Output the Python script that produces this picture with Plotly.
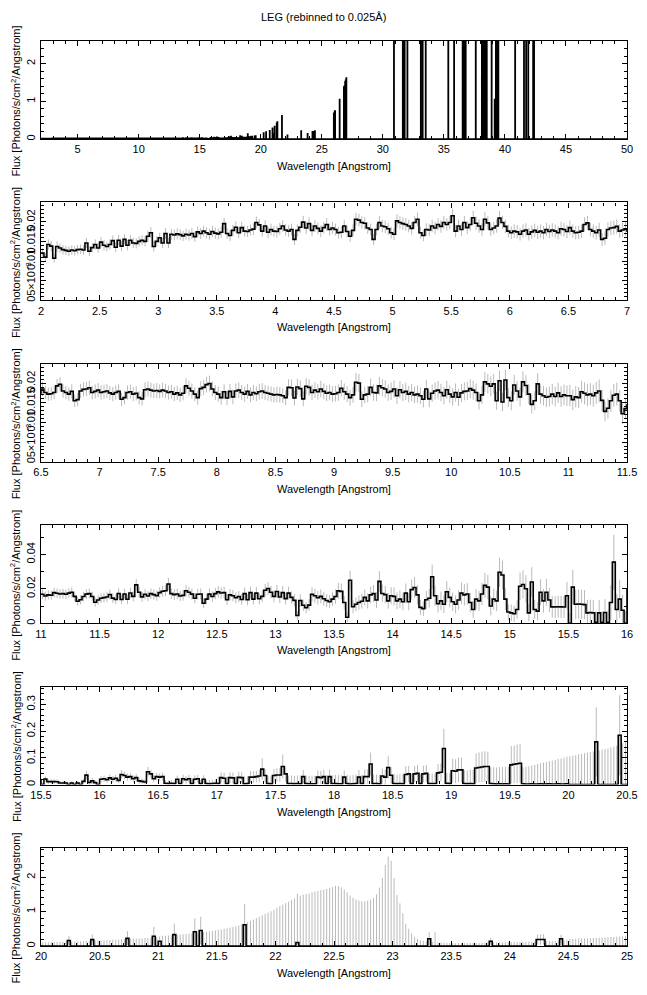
import plotly.graph_objects as go

# The page body adds an 8 px margin; the figure is sized and placed to compensate.
PAGE_MARGIN = 8
W, H = 647 - 2 * PAGE_MARGIN, 995 - 2 * PAGE_MARGIN
WL_START = 2.0
BIN_WIDTH = 0.025

# ---- flux and 1-sigma error, units of 1e-3 photons/s/cm^2/Angstrom, one list per Angstrom (40 bins)
flux_2_3 = [12.0, 11.0, 14.2, 13.8, 10.7, 13.7, 13.3, 12.9, 12.7, 12.5,
            12.8, 12.6, 12.9, 13.0, 12.8, 14.6, 12.5, 13.4, 14.2, 13.3,
            14.8, 14.0, 13.7, 14.2, 15.2, 13.5, 15.3, 13.8, 15.5, 14.0,
            15.3, 14.6, 14.5, 15.0, 15.3, 15.0, 16.3, 17.2, 13.7, 15.0]
err_2_3 = [1.2, 1.1, 1.3, 1.3, 1.1, 1.3, 1.2, 1.2, 1.2, 1.2,
           1.2, 1.2, 1.2, 1.2, 1.2, 1.3, 1.2, 1.2, 1.3, 1.2,
           1.3, 1.3, 1.2, 1.3, 1.3, 1.2, 1.3, 1.3, 1.3, 1.3,
           1.3, 1.3, 1.3, 1.3, 1.3, 1.3, 1.4, 1.4, 1.3, 1.3]
flux_3_4 = [15.9, 14.6, 17.0, 14.6, 16.8, 16.6, 16.9, 16.7, 16.4, 16.8,
            16.6, 17.0, 16.2, 17.4, 17.0, 17.6, 17.2, 16.8, 17.5, 17.1,
            16.9, 17.3, 19.5, 17.0, 16.5, 17.8, 18.6, 17.2, 18.5, 17.6,
            17.5, 17.9, 18.1, 19.8, 19.2, 17.6, 18.9, 17.3, 18.0, 17.6]
err_3_4 = [1.3, 1.3, 1.4, 1.3, 1.4, 1.4, 1.4, 1.4, 1.3, 1.4,
           1.4, 1.4, 1.3, 1.4, 1.4, 1.4, 1.4, 1.4, 1.4, 1.4,
           1.4, 1.4, 1.5, 1.4, 1.4, 1.4, 1.5, 1.4, 1.5, 1.4,
           1.4, 1.4, 1.5, 1.5, 1.5, 1.4, 1.5, 1.4, 1.5, 1.4]
flux_4_5 = [17.5, 18.2, 18.9, 17.9, 17.6, 18.0, 15.5, 17.8, 18.6, 19.9,
            18.4, 19.5, 17.8, 18.9, 18.3, 17.6, 18.5, 19.3, 18.0, 18.4,
            18.0, 17.2, 17.3, 18.9, 17.5, 16.3, 17.8, 20.6, 20.4, 19.8,
            19.6, 18.4, 18.0, 15.5, 18.0, 19.8, 18.9, 18.7, 18.2, 17.2]
err_4_5 = [1.5, 1.5, 1.5, 1.5, 1.5, 1.5, 1.4, 1.5, 1.5, 1.6,
           1.5, 1.6, 1.5, 1.5, 1.5, 1.5, 1.5, 1.6, 1.5, 1.5,
           1.5, 1.5, 1.5, 1.6, 1.5, 1.5, 1.5, 1.6, 1.6, 1.6,
           1.6, 1.5, 1.5, 1.4, 1.5, 1.6, 1.6, 1.6, 1.5, 1.5]
flux_5_6 = [16.8, 20.2, 19.8, 19.5, 19.3, 18.9, 18.3, 19.8, 20.6, 17.2,
            16.5, 18.0, 17.9, 18.9, 18.4, 19.3, 18.8, 19.8, 19.3, 19.8,
            21.5, 17.6, 18.9, 18.0, 19.8, 18.5, 19.3, 21.0, 19.6, 18.9,
            18.0, 20.6, 19.7, 18.0, 18.4, 18.9, 20.9, 19.8, 18.8, 17.6]
err_5_6 = [1.5, 1.7, 1.6, 1.6, 1.6, 1.6, 1.6, 1.6, 1.7, 1.5,
           1.5, 1.6, 1.6, 1.6, 1.6, 1.6, 1.6, 1.7, 1.6, 1.7,
           1.8, 1.6, 1.6, 1.6, 1.7, 1.6, 1.7, 1.8, 1.7, 1.7,
           1.6, 1.8, 1.7, 1.6, 1.6, 1.7, 1.8, 1.7, 1.7, 1.6]
flux_6_7 = [17.2, 17.6, 17.4, 16.8, 17.6, 17.9, 16.8, 17.4, 17.8, 17.3,
            17.6, 17.2, 18.0, 17.5, 17.9, 17.6, 17.2, 18.2, 18.0, 17.5,
            18.5, 17.6, 17.2, 17.3, 17.6, 19.3, 19.7, 18.0, 17.6, 17.2,
            17.9, 15.5, 15.8, 18.0, 18.4, 18.5, 18.8, 17.6, 17.9, 18.2]
err_6_7 = [1.6, 1.7, 1.7, 1.6, 1.7, 1.7, 1.6, 1.7, 1.7, 1.7,
           1.7, 1.7, 1.7, 1.7, 1.7, 1.7, 1.7, 1.8, 1.7, 1.7,
           1.8, 1.7, 1.7, 1.7, 1.7, 1.8, 1.8, 1.7, 1.7, 1.7,
           1.8, 1.6, 1.7, 1.8, 1.8, 1.8, 1.8, 1.7, 1.8, 1.8]
flux_7_8 = [17.6, 17.8, 18.0, 17.5, 17.2, 17.6, 17.9, 15.9, 16.3, 17.6,
            17.8, 17.2, 17.4, 16.3, 16.0, 18.3, 18.5, 18.2, 18.0, 18.1,
            17.9, 18.2, 18.0, 17.6, 17.8, 17.2, 17.5, 17.0, 17.4, 19.3,
            18.7, 18.0, 17.2, 16.3, 18.6, 18.9, 19.6, 19.9, 18.5, 17.6]
err_7_8 = [1.8, 1.8, 1.8, 1.8, 1.8, 1.8, 1.8, 1.7, 1.7, 1.8,
           1.8, 1.8, 1.8, 1.7, 1.7, 1.9, 1.9, 1.9, 1.8, 1.9,
           1.8, 1.9, 1.8, 1.8, 1.8, 1.8, 1.8, 1.8, 1.8, 1.9,
           1.9, 1.9, 1.8, 1.8, 1.9, 1.9, 2.0, 2.0, 1.9, 1.9]
flux_8_9 = [17.2, 16.3, 17.8, 16.2, 17.9, 16.5, 18.0, 18.2, 17.6, 17.2,
            17.9, 17.0, 17.6, 17.3, 17.8, 18.0, 17.6, 17.4, 17.2, 17.0,
            17.1, 17.0, 16.8, 16.3, 18.9, 18.8, 16.2, 19.0, 18.6, 16.0,
            19.2, 18.9, 17.6, 18.2, 17.8, 18.5, 17.9, 17.4, 17.6, 17.2]
err_8_9 = [1.9, 1.8, 1.9, 1.8, 1.9, 1.9, 1.9, 2.0, 1.9, 1.9,
           1.9, 1.9, 1.9, 1.9, 2.0, 2.0, 1.9, 1.9, 1.9, 1.9,
           2.0, 2.0, 1.9, 1.9, 2.1, 2.1, 1.9, 2.1, 2.1, 1.9,
           2.1, 2.1, 2.0, 2.0, 2.0, 2.1, 2.0, 2.0, 2.0, 2.0]
flux_9_10 = [17.3, 17.6, 18.7, 17.8, 17.2, 16.3, 17.0, 20.2, 20.0, 15.9,
             17.0, 17.2, 18.9, 17.6, 17.5, 19.3, 18.8, 18.5, 17.6, 17.9,
             18.5, 16.8, 18.3, 17.6, 17.9, 17.2, 17.6, 17.0, 17.2, 16.8,
             15.9, 18.5, 16.0, 17.4, 18.0, 18.2, 17.6, 16.8, 18.3, 17.2]
err_9_10 = [2.0, 2.1, 2.1, 2.1, 2.0, 2.0, 2.0, 2.3, 2.3, 2.0,
            2.1, 2.1, 2.2, 2.1, 2.1, 2.3, 2.2, 2.2, 2.1, 2.2,
            2.2, 2.1, 2.2, 2.2, 2.2, 2.1, 2.2, 2.1, 2.2, 2.1,
            2.1, 2.3, 2.1, 2.2, 2.2, 2.3, 2.2, 2.2, 2.3, 2.2]
flux_10_11 = [16.5, 17.6, 16.4, 17.5, 17.9, 18.0, 18.6, 18.2, 17.6, 15.5,
              17.0, 20.3, 19.8, 19.2, 19.8, 15.5, 20.6, 15.2, 20.8, 16.3,
              15.5, 19.5, 18.0, 16.5, 20.3, 19.4, 17.2, 14.6, 15.5, 19.8,
              17.2, 16.8, 16.4, 16.6, 17.2, 16.6, 17.5, 16.6, 17.0, 16.8]
err_10_11 = [2.2, 2.3, 2.2, 2.3, 2.3, 2.3, 2.4, 2.4, 2.3, 2.2,
             2.3, 2.5, 2.5, 2.5, 2.5, 2.3, 2.6, 2.3, 2.6, 2.4,
             2.4, 2.6, 2.5, 2.4, 2.7, 2.6, 2.5, 2.3, 2.4, 2.7,
             2.5, 2.5, 2.5, 2.5, 2.6, 2.5, 2.6, 2.6, 2.6, 2.6]
flux_11_12 = [16.8, 15.8, 16.5, 16.3, 17.8, 17.4, 17.0, 17.2, 16.8, 17.5,
              18.0, 15.6, 12.8, 13.6, 15.5, 16.9, 17.2, 15.5, 12.2, 13.5,
              14.5, 14.9, 15.2, 16.7, 14.6, 13.8, 17.3, 13.8, 17.0, 13.9,
              17.6, 15.6, 22.3, 18.0, 15.3, 16.8, 15.8, 17.2, 16.6, 16.0]
err_11_12 = [2.7, 2.6, 2.7, 2.7, 2.8, 2.8, 2.8, 2.8, 2.8, 2.8,
             2.9, 2.7, 2.5, 2.6, 2.8, 2.9, 2.9, 2.8, 2.6, 2.7,
             2.8, 2.8, 2.8, 2.9, 2.8, 2.8, 3.0, 2.8, 3.0, 2.8,
             3.0, 2.9, 3.3, 3.1, 2.9, 3.0, 3.0, 3.1, 3.0, 3.0]
flux_12_13 = [17.8, 18.6, 18.9, 22.8, 17.2, 16.6, 17.0, 15.8, 16.2, 18.9,
              18.0, 16.9, 14.5, 16.8, 17.0, 11.6, 14.0, 16.9, 15.5, 17.2,
              18.2, 17.6, 17.8, 13.6, 16.5, 16.0, 14.8, 15.5, 13.8, 17.2,
              13.6, 17.8, 14.0, 17.5, 14.2, 15.6, 19.2, 20.2, 18.0, 15.6]
err_12_13 = [3.1, 3.2, 3.2, 3.5, 3.1, 3.1, 3.1, 3.0, 3.1, 3.3,
             3.2, 3.2, 3.0, 3.2, 3.2, 2.8, 3.0, 3.3, 3.1, 3.3,
             3.4, 3.3, 3.4, 3.0, 3.3, 3.3, 3.2, 3.3, 3.1, 3.5,
             3.2, 3.5, 3.2, 3.5, 3.3, 3.4, 3.7, 3.8, 3.6, 3.5]
flux_13_14 = [18.4, 15.2, 17.8, 14.3, 17.5, 15.0, 13.3, 4.5, 13.2, 10.4,
              9.0, 10.5, 16.8, 16.0, 14.8, 15.6, 14.2, 13.2, 12.5, 14.0,
              15.5, 18.8, 18.5, 12.0, 3.5, 25.0, 9.6, 11.0, 12.0, 12.8,
              15.0, 13.0, 16.5, 17.2, 13.5, 24.3, 17.3, 16.6, 13.0, 16.0]
err_13_14 = [3.8, 3.5, 3.8, 3.5, 3.8, 3.6, 3.5, 2.5, 3.6, 3.3,
             3.2, 3.4, 4.1, 4.0, 3.9, 4.0, 3.9, 3.8, 3.8, 4.0,
             4.2, 4.6, 4.6, 4.0, 2.8, 5.6, 3.8, 4.0, 4.2, 4.3,
             4.6, 4.4, 4.9, 5.0, 4.6, 6.0, 5.1, 5.0, 4.6, 5.0]
flux_14_15 = [15.6, 13.0, 14.0, 12.5, 17.5, 12.5, 19.5, 20.8, 16.5, 9.2,
              8.5, 13.6, 14.5, 27.0, 16.0, 11.3, 13.0, 11.0, 18.3, 15.0,
              12.5, 11.0, 13.5, 17.5, 16.5, 17.0, 12.0, 8.0, 14.0, 13.0,
              17.0, 22.0, 21.0, 10.0, 14.0, 13.0, 29.6, 28.0, 14.0, 6.5]
err_14_15 = [5.2, 4.9, 5.1, 4.9, 5.6, 5.0, 5.9, 6.1, 5.6, 4.4,
             4.3, 5.2, 5.4, 7.1, 5.8, 5.1, 5.4, 5.1, 6.2, 5.8,
             5.4, 5.2, 5.6, 6.3, 6.2, 6.3, 5.6, 4.8, 5.9, 5.8,
             6.5, 7.2, 7.1, 5.5, 6.2, 6.0, 8.5, 8.4, 6.3, 4.5]
flux_15_16 = [6.0, 5.5, 8.0, 21.5, 22.5, 20.0, 6.0, 24.0, 8.0, 7.0,
              18.0, 13.0, 18.0, 13.5, 9.5, 9.4, 9.6, 9.5, 9.4, 16.0,
              0.0, 21.0, 11.0, 11.2, 11.0, 10.8, 6.0, 6.2, 6.0, 0.5,
              6.0, 0.5, 6.2, 0.5, 12.0, 35.5, 8.0, 14.0, 7.5, 0.0]
err_15_16 = [4.8, 4.7, 5.4, 8.0, 8.2, 7.9, 5.0, 8.6, 5.5, 5.3,
             7.6, 6.8, 7.8, 7.0, 6.2, 6.3, 6.3, 6.4, 6.4, 8.0,
             6.0, 10.0, 8.5, 8.5, 8.5, 8.5, 7.5, 7.5, 7.5, 6.5,
             7.5, 6.5, 7.8, 6.8, 10.0, 16.0, 9.0, 11.0, 9.0, 7.0]
flux_16_17 = [20, 22, 18, 25, 20, 24, 16, 38, 34, 28,
              30, 22, 26, 14, 12, 10, 48, 40, 22, 30,
              28, 30, 5, 4, 5, 4, 20, 4, 22, 18,
              22, 4, 20, 22, 4, 20, 4, 3, 4, 5]
err_16_17 = [12, 12, 11, 13, 12, 13, 11, 16, 15, 14,
             14, 13, 14, 11, 11, 10, 18, 16, 13, 14,
             14, 15, 12, 12, 12, 12, 14, 12, 15, 14,
             15, 13, 15, 15, 13, 15, 14, 14, 14, 14]
flux_17_18 = [4, 26, 24, 4, 26, 25, 4, 27, 26, 3,
              4, 28, 28, 30, 32, 58, 34, 4, 3, 34,
              36, 36, 68, 40, 4, 4, 3, 4, 3, 30,
              4, 3, 3, 3, 28, 26, 30, 4, 30, 4]
err_17_18 = [26, 20, 20, 26, 20, 20, 27, 21, 21, 27,
             27, 22, 22, 22, 23, 40, 24, 28, 28, 25,
             25, 25, 45, 28, 30, 30, 30, 30, 30, 25,
             30, 30, 30, 30, 25, 25, 26, 31, 26, 31]
flux_18_19 = [4, 3, 3, 28, 4, 2, 3, 4, 28, 4,
              30, 30, 77, 4, 4, 3, 32, 28, 64, 35,
              4, 3, 4, 3, 38, 40, 4, 40, 42, 4,
              40, 42, 4, 4, 4, 44, 46, 135, 5, 4]
err_18_19 = [32, 32, 32, 25, 32, 32, 32, 33, 26, 33,
             27, 27, 43, 34, 34, 34, 28, 28, 42, 30,
             35, 35, 35, 35, 30, 30, 36, 30, 31, 36,
             31, 31, 37, 37, 37, 33, 33, 74, 38, 38]
flux_19_20 = [52, 50, 55, 55, 4, 3, 4, 3, 62, 64,
              66, 68, 68, 4, 3, 2, 3, 2, 3, 2,
              74, 76, 78, 80, 3, 2, 2, 3, 2, 2,
              3, 2, 2, 3, 2, 2, 3, 2, 2, 3]
err_19_20 = [45, 45, 46, 46, 50, 50, 52, 52, 55, 56,
             57, 57, 55, 60, 62, 62, 63, 64, 64, 65,
             70, 70, 72, 72, 62, 65, 67, 69, 72, 75,
             77, 80, 82, 85, 88, 90, 93, 96, 99, 102]
flux_20_21 = [0, 0, 0, 0, 0, 0, 0, 0, 0, 160,
              0, 0, 0, 0, 0, 0, 0, 185, 0, 0,
              0, 0, 0, 0, 0, 0, 0, 0, 0, 222,
              0, 0, 0, 0, 0, 0, 0, 0, 283, 0]
err_20_21 = [106, 108, 110, 113, 115, 118, 120, 122, 125, 130,
             128, 131, 133, 135, 139, 142, 146, 150, 155, 158,
             165, 168, 172, 175, 180, 184, 188, 192, 197, 210,
             205, 210, 215, 220, 226, 232, 238, 245, 270, 258]
flux_21_22 = [140, 0, 0, 0, 0, 330, 0, 0, 0, 0,
              0, 0, 415, 0, 450, 0, 0, 0, 0, 0,
              0, 0, 0, 0, 0, 0, 0, 0, 0, 620,
              0, 0, 0, 0, 0, 0, 0, 0, 0, 0]
err_21_22 = [140, 295, 300, 306, 312, 320, 325, 332, 340, 348,
             356, 365, 385, 385, 400, 405, 415, 428, 440, 455,
             470, 485, 500, 518, 535, 555, 575, 600, 625, 600,
             690, 730, 770, 810, 850, 890, 930, 970, 1010, 1050]
flux_22_23 = [0, 0, 0, 0, 0, 0, 0, 100, 0, 0,
              0, 0, 0, 0, 0, 0, 0, 0, 0, 0,
              0, 0, 0, 0, 0, 0, 0, 0, 0, 0,
              0, 0, 0, 0, 0, 0, 0, 0, 0, 0]
err_22_23 = [1120, 1160, 1200, 1250, 1290, 1340, 1380, 1420, 1460, 1490,
             1510, 1530, 1560, 1580, 1600, 1620, 1640, 1665, 1690, 1720,
             1750, 1740, 1700, 1640, 1560, 1470, 1400, 1350, 1320, 1300,
             1300, 1320, 1350, 1400, 1500, 1700, 1980, 2360, 2600, 2480]
flux_23_24 = [0, 0, 0, 0, 0, 0, 0, 0, 0, 0,
              0, 0, 210, 0, 0, 0, 0, 0, 0, 0,
              0, 0, 0, 0, 0, 0, 0, 0, 0, 0,
              0, 0, 0, 140, 0, 0, 0, 0, 0, 0]
err_23_24 = [1970, 1480, 1240, 950, 650, 500, 360, 260, 210, 170,
             150, 140, 190, 130, 400, 110, 100, 95, 90, 88,
             85, 85, 86, 87, 88, 90, 92, 94, 95, 97,
             98, 100, 102, 100, 104, 105, 106, 108, 110, 112]
flux_24_25 = [0, 0, 0, 0, 0, 0, 0, 0, 0, 190,
              190, 190, 0, 0, 0, 0, 0, 210, 0, 0,
              0, 0, 0, 0, 0, 0, 0, 0, 0, 0,
              0, 0, 0, 0, 0, 0, 0, 0, 0, 0]
err_24_25 = [110, 112, 115, 117, 120, 122, 125, 128, 131, 150,
             150, 150, 140, 143, 147, 150, 155, 120, 165, 180,
             205, 208, 211, 214, 217, 220, 224, 228, 232, 236,
             240, 245, 250, 255, 260, 265, 270, 276, 282, 288]

# ---- 25-50 Angstrom (overview panel only); all other bins there read as zero
bar_wl = [25.975, 26.05, 26.075, 26.45, 26.8, 26.85, 26.9, 26.95, 27.0, 39.15]
bar_flux = [680, 740, 740, 1050, 1380, 1400, 1520, 1560, 1620, 1050]
spike_wl = [30.9, 31.625, 31.775, 32.0, 33.1, 33.25, 33.5, 35.35, 35.825, 36.525,
            36.65, 36.775, 37.6, 38.1, 38.225, 38.35, 38.5, 38.9, 39.25, 39.35,
            39.45, 40.825, 41.55, 41.725, 41.9, 42.3, 42.375]
spike_flux = [6200, 4100, 5300, 3900, 7400, 4400, 5100, 3600, 4700, 6800,
              3300, 5900, 4200, 8100, 3700, 6400, 4500, 5200, 3800, 7000,
              4900, 3500, 6100, 4300, 5600, 3400, 7200]
WL_END_TOP = 50.0

flux_chunks = [flux_2_3, flux_3_4, flux_4_5, flux_5_6, flux_6_7, flux_7_8, flux_8_9,
               flux_9_10, flux_10_11, flux_11_12, flux_12_13, flux_13_14, flux_14_15,
               flux_15_16, flux_16_17, flux_17_18, flux_18_19, flux_19_20, flux_20_21,
               flux_21_22, flux_22_23, flux_23_24, flux_24_25]
err_chunks = [err_2_3, err_3_4, err_4_5, err_5_6, err_6_7, err_7_8, err_8_9,
              err_9_10, err_10_11, err_11_12, err_12_13, err_13_14, err_14_15,
              err_15_16, err_16_17, err_17_18, err_18_19, err_19_20, err_20_21,
              err_21_22, err_22_23, err_23_24, err_24_25]
for k, (fc, ec) in enumerate(zip(flux_chunks, err_chunks)):
    if len(fc) != 40 or len(ec) != 40:
        raise ValueError(f"chunk {k}: {len(fc)} {len(ec)}")

flux = [v / 1000.0 for c in flux_chunks for v in c]
err = [v / 1000.0 for c in err_chunks for v in c]
n_main = len(flux)

n_top = int(round((WL_END_TOP - WL_START) / BIN_WIDTH))
flux_top = flux + [0.0] * (n_top - n_main)
for wl, f in list(zip(bar_wl, bar_flux)) + list(zip(spike_wl, spike_flux)):
    flux_top[int(round((wl - WL_START) / BIN_WIDTH))] = f / 1000.0


def step_xy(vals):
    xs = [WL_START + i * BIN_WIDTH for i in range(len(vals) + 1)]
    ys = list(vals) + [vals[-1]]
    return xs, ys


def err_xy(vals, errs):
    xs, ys = [], []
    for i, (v, e) in enumerate(zip(vals, errs)):
        c = WL_START + (i + 0.5) * BIN_WIDTH
        xs += [c, c, None]
        ys += [v - e, v + e, None]
    return xs, ys


FONT = "Liberation Sans, Arial, sans-serif"


def fx(px):  # reference-window pixel x -> paper fraction
    return (px - PAGE_MARGIN) / W


def fy(py):  # reference-window pixel y -> paper fraction
    return 1 - (py - PAGE_MARGIN) / H


X0, X1 = 41, 627
bottoms = [139, 300.4, 461.8, 623.2, 784.6, 946]
PH = 98

panels = [
    dict(xr=[2, 50], xt=[5, 10, 15, 20, 25, 30, 35, 40, 45, 50], xm=1,
         yr=[0, 2.6], yt=[0, 1, 2], ytt=["0", "1", "2"], ym=0.2, top=True),
    dict(xr=[2, 7], xt=[2, 2.5, 3, 3.5, 4, 4.5, 5, 5.5, 6, 6.5, 7], xm=0.1,
         yr=[0, 0.0249], yt=[0, 0.005, 0.01, 0.015, 0.02],
         ytt=["0", "5×10<sup>−3</sup>", "0.01", "0.015", "0.02"], ym=0.001),
    dict(xr=[6.5, 11.5], xt=[6.5, 7, 7.5, 8, 8.5, 9, 9.5, 10, 10.5, 11, 11.5], xm=0.1,
         yr=[0, 0.0249], yt=[0, 0.005, 0.01, 0.015, 0.02],
         ytt=["0", "5×10<sup>−3</sup>", "0.01", "0.015", "0.02"], ym=0.001),
    dict(xr=[11, 16], xt=[11, 11.5, 12, 12.5, 13, 13.5, 14, 14.5, 15, 15.5, 16], xm=0.1,
         yr=[0, 0.057], yt=[0, 0.02, 0.04], ytt=["0", "0.02", "0.04"], ym=0.01),
    dict(xr=[15.5, 20.5], xt=[15.5, 16, 16.5, 17, 17.5, 18, 18.5, 19, 19.5, 20, 20.5], xm=0.1,
         yr=[0, 0.367], yt=[0, 0.1, 0.2, 0.3], ytt=["0", "0.1", "0.2", "0.3"], ym=0.02),
    dict(xr=[20, 25], xt=[20, 20.5, 21, 21.5, 22, 22.5, 23, 23.5, 24, 24.5, 25], xm=0.1,
         yr=[0, 2.85], yt=[0, 1, 2], ytt=["0", "1", "2"], ym=0.2),
]

fig = go.Figure()
sx_main, sy_main = step_xy(flux)
ex_main, ey_main = err_xy(flux, err)
sx_top, sy_top = step_xy(flux_top)

annotations = []
for k, p in enumerate(panels):
    sfx = "" if k == 0 else str(k + 1)
    xa, ya = "x" + sfx, "y" + sfx
    if p.get("top"):
        fig.add_trace(go.Scatter(x=sx_top, y=sy_top, mode="lines", line=dict(color="black", width=1.5, shape="hv"),
                                 xaxis=xa, yaxis=ya, hoverinfo="skip", showlegend=False))
    else:
        fig.add_trace(go.Scatter(x=ex_main, y=ey_main, mode="lines", line=dict(color="#bababa", width=1),
                                 xaxis=xa, yaxis=ya, hoverinfo="skip", showlegend=False))
        fig.add_trace(go.Scatter(x=sx_main, y=sy_main, mode="lines", line=dict(color="black", width=1.6, shape="hv"),
                                 xaxis=xa, yaxis=ya, hoverinfo="skip", showlegend=False))
    b = bottoms[k]
    t = b - PH
    common = dict(showline=True, linecolor="black", linewidth=1.3, mirror="allticks",
                  ticks="inside", ticklen=5, tickwidth=1, tickcolor="black", automargin=False,
                  showgrid=False, zeroline=False, tickfont=dict(family=FONT, size=11, color="black"))
    fig.layout["xaxis" + sfx] = dict(
        domain=[fx(X0), fx(X1)], range=p["xr"], anchor=ya, tickmode="array",
        tickvals=p["xt"], ticktext=[f"{v:g}" for v in p["xt"]],
        minor=dict(tickmode="linear", tick0=0, dtick=p["xm"], ticks="inside", ticklen=3,
                   tickcolor="black", tickwidth=1, showgrid=False), **common)
    fig.layout["yaxis" + sfx] = dict(
        domain=[fy(b), fy(t)], range=p["yr"], anchor=xa, tickmode="array",
        tickvals=p["yt"], ticktext=p["ytt"], tickangle=-90,
        minor=dict(tickmode="linear", tick0=0, dtick=p["ym"], ticks="inside", ticklen=3,
                   tickcolor="black", tickwidth=1, showgrid=False), **common)
    annotations.append(dict(text="Wavelength [Angstrom]", x=fx((X0 + X1) / 2), y=fy(b + 27),
                            xref="paper", yref="paper", showarrow=False, xanchor="center", yanchor="middle",
                            font=dict(family=FONT, size=11, color="black")))
    annotations.append(dict(text="Flux [Photons/s/cm<sup>2</sup>/Angstrom]", x=fx(15.5), y=fy((b + t) / 2 + 11),
                            xref="paper", yref="paper", showarrow=False, textangle=-90,
                            xanchor="center", yanchor="middle",
                            font=dict(family=FONT, size=11, color="black")))

annotations.append(dict(text="LEG (rebinned to 0.025Å)", x=fx(323.5), y=fy(17), xref="paper", yref="paper",
                        showarrow=False, xanchor="center", yanchor="middle",
                        font=dict(family=FONT, size=11, color="black")))

fig.update_layout(width=W, height=H, margin=dict(l=0, r=0, t=0, b=0, autoexpand=False), autosize=False,
                  paper_bgcolor="white", plot_bgcolor="white", annotations=annotations,
                  font=dict(family=FONT, size=11, color="black"), showlegend=False)

fig.write_html("out.html")
